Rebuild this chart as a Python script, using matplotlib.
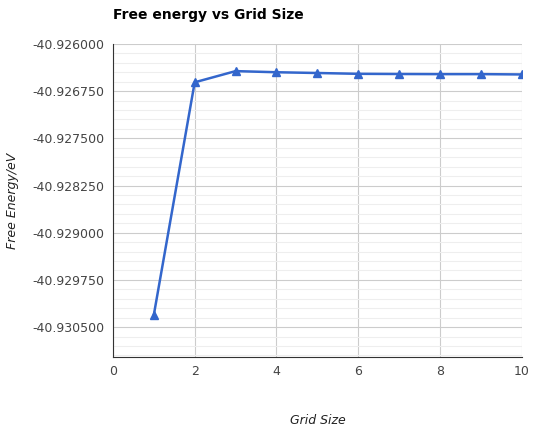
import numpy as np
import matplotlib as mpl
mpl.use('agg')
import matplotlib.pyplot as plt

grid_size = [1, 2, 3, 4, 5, 6, 7, 8, 9, 10]
free_energy = [-40.930310, -40.926610, -40.926432, -40.926450, -40.926462,
               -40.926475, -40.926478, -40.926480, -40.926480, -40.926485]
yticks = [-40.926, -40.92675, -40.9275, -40.92825, -40.929, -40.92975, -40.9305]
ytick_labels = ['-40.926000', '-40.926750', '-40.927500', '-40.928250',
                '-40.929000', '-40.929750', '-40.930500']

fig = plt.figure(figsize=(5.35, 4.29), dpi=100)
ax = fig.add_axes([0.211, 0.168, 0.7645, 0.7296])

ax.set_xlim(0, 10)
ax.set_ylim(-40.930974, -40.926)
ax.set_xticks([0, 2, 4, 6, 8, 10])
ax.set_yticks(yticks)
ax.set_yticklabels(ytick_labels)
ax.set_yticks(np.arange(-40.926, -40.931, -0.00015), minor=True)
ax.grid(which='major', color='#cccccc', linewidth=0.8)
ax.grid(which='minor', axis='y', color='#eeeeee', linewidth=0.8)
ax.set_axisbelow(True)
for s in ['top', 'right']:
    ax.spines[s].set_visible(False)
ax.spines['left'].set_color('#333333')
ax.spines['bottom'].set_color('#333333')
ax.tick_params(which='both', length=0, labelsize=9, colors='#444444', pad=6)

ax.plot(grid_size, free_energy, color='#3366cc', linewidth=1.8, marker='^', markersize=6)

ax.set_ylabel('Free Energy/eV', fontsize=9, style='italic', color='#222222', labelpad=10)
fig.text(0.594, 0.02, 'Grid Size', fontsize=9, style='italic', color='#222222', ha='center', va='center')
fig.text(0.211, 0.965, 'Free energy vs Grid Size', fontsize=10, fontweight='bold', va='center')

fig.savefig('out.png', dpi=100)
